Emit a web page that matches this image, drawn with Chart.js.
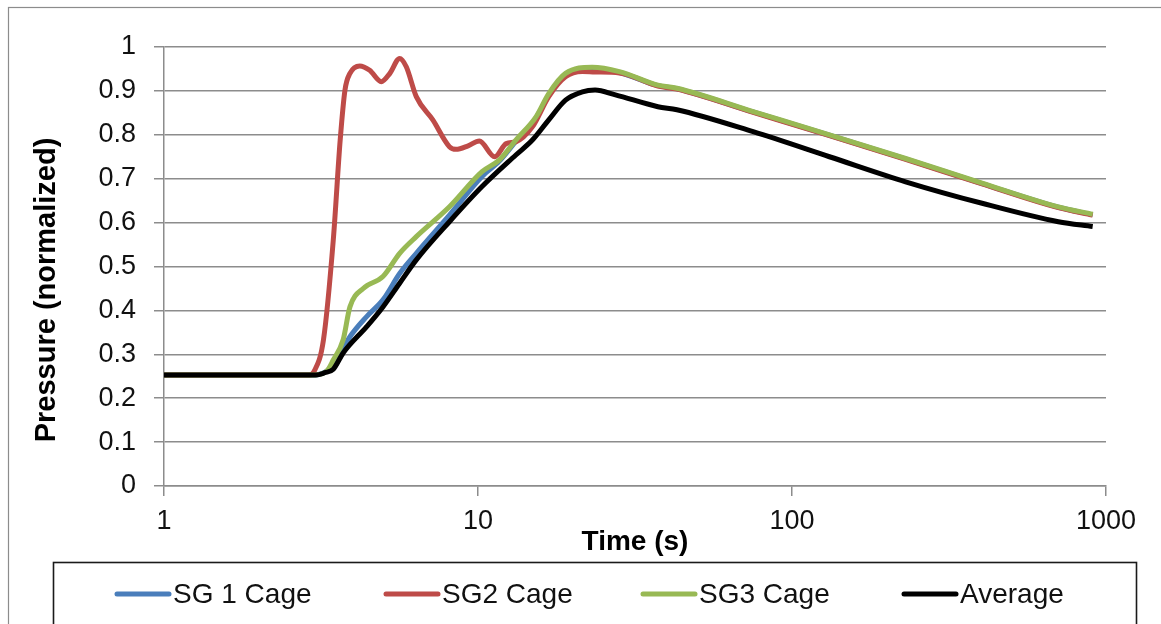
<!DOCTYPE html>
<html><head><meta charset="utf-8">
<script src="https://cdn.jsdelivr.net/npm/chart.js@4.4.0/dist/chart.umd.min.js"></script>
<style>html,body{margin:0;padding:0;background:#fff;overflow:hidden}#wrap{position:relative;width:1161px;height:624px}</style>
</head><body><div id="wrap"><canvas id="c" width="1161" height="624"></canvas></div>
<script>
const FONT = '"Liberation Sans", Arial, sans-serif';
const seriesNames = ['SG 1 Cage', 'SG2 Cage', 'SG3 Cage', 'Average'];
const seriesColors = ['#4A7EBB', '#BE4B48', '#98B954', '#000000'];
const xTickValues = [1, 10, 100, 1000];
const xAxisTitle = 'Time (s)';
const yAxisTitle = 'Pressure (normalized)';

const sg1Time = [1, 3.0, 3.3, 3.55, 3.91, 4.42, 4.98, 5.63, 6.36, 8.11, 10.3, 11.7, 13.2, 15.3, 16.8, 19.0, 23.1, 28.2, 37.4, 43, 75.2, 131.6, 230, 403, 705, 907];
const sg1Pressure = [0.253, 0.253, 0.262, 0.287, 0.34, 0.386, 0.424, 0.484, 0.53, 0.617, 0.705, 0.74, 0.785, 0.838, 0.89, 0.937, 0.951, 0.942, 0.912, 0.905, 0.852, 0.799, 0.745, 0.689, 0.635, 0.618];

const sg2Time = [1, 2.9, 3.0, 3.22, 3.46, 3.64, 3.77, 3.91, 4.2, 4.52, 4.92, 5.24, 5.63, 5.91, 6.36, 7.18, 8.11, 8.51, 9.3, 10.1, 11.3, 12.3, 13.2, 14.9, 16.8, 19.0, 21.5, 23.6, 28.2, 37.4, 43, 75.2, 131.6, 230, 403, 705, 907];
const sg2Pressure = [0.253, 0.253, 0.26, 0.333, 0.56, 0.788, 0.902, 0.94, 0.957, 0.947, 0.921, 0.94, 0.974, 0.955, 0.887, 0.834, 0.773, 0.767, 0.775, 0.786, 0.75, 0.78, 0.784, 0.818, 0.887, 0.932, 0.944, 0.943, 0.941, 0.911, 0.904, 0.851, 0.798, 0.744, 0.688, 0.634, 0.617];

const sg3Time = [1, 3.0, 3.3, 3.46, 3.72, 3.91, 4.31, 4.98, 5.63, 6.36, 8.11, 10.3, 11.7, 13.2, 15.3, 16.8, 19.0, 23.1, 28.2, 37.4, 43, 75.2, 131.6, 230, 403, 705, 907];
const sg3Pressure = [0.253, 0.253, 0.262, 0.287, 0.333, 0.408, 0.45, 0.477, 0.53, 0.568, 0.636, 0.716, 0.743, 0.788, 0.841, 0.894, 0.94, 0.954, 0.944, 0.913, 0.906, 0.853, 0.80, 0.746, 0.69, 0.636, 0.619];

const avgTime = [1, 3.05, 3.25, 3.46, 3.72, 4.42, 4.98, 5.63, 6.36, 8.11, 10.3, 13.2, 14.9, 16.8, 19.0, 21.5, 23.6, 27.4, 37.4, 43, 75.2, 131.6, 230, 403, 705, 907];
const avgPressure = [0.253, 0.253, 0.258, 0.266, 0.303, 0.363, 0.408, 0.462, 0.515, 0.602, 0.682, 0.754, 0.788, 0.834, 0.879, 0.898, 0.902, 0.891, 0.864, 0.857, 0.807, 0.75, 0.693, 0.644, 0.602, 0.591];

const allTimes = [sg1Time, sg2Time, sg3Time, avgTime];
const allPressures = [sg1Pressure, sg2Pressure, sg3Pressure, avgPressure];

const datasets = seriesNames.map((name, i) => ({
  label: name,
  data: allTimes[i].map((t, k) => ({ x: t, y: allPressures[i][k] })),
  borderColor: seriesColors[i],
  backgroundColor: seriesColors[i],
  borderWidth: 5,
  pointRadius: 0,
  fill: false,
  cubicInterpolationMode: 'monotone',
  order: seriesNames.length - i
}));

const framePlugin = {
  id: 'frame',
  beforeDraw(chart) {
    const ctx = chart.ctx;
    ctx.save();
    ctx.fillStyle = '#fff';
    ctx.fillRect(0, 0, chart.width, chart.height);
    ctx.strokeStyle = '#8c8c8c';
    ctx.lineWidth = 1.2;
    ctx.strokeRect(8.5, 7.5, 1300, 800);
    ctx.restore();
  },
  afterDraw(chart) {
    const ctx = chart.ctx;
    ctx.save();
    ctx.translate(47, 290);
    ctx.rotate(-Math.PI / 2);
    ctx.font = 'bold 29px ' + FONT;
    ctx.fillStyle = '#000';
    ctx.textAlign = 'center';
    ctx.textBaseline = 'middle';
    ctx.fillText(yAxisTitle, 0, 0);
    ctx.restore();
    ctx.save();
    ctx.strokeStyle = '#1a1a1a';
    ctx.lineWidth = 1.6;
    ctx.strokeRect(53.5, 562.5, 1083, 120);
    const starts = [115, 384, 641, 902];
    const ly = 594;
    ctx.font = '28px ' + FONT;
    ctx.textBaseline = 'middle';
    ctx.textAlign = 'left';
    chart.data.datasets.forEach((ds, i) => {
      ctx.strokeStyle = ds.borderColor;
      ctx.lineWidth = 5;
      ctx.lineCap = 'round';
      ctx.beginPath();
      ctx.moveTo(starts[i] + 2, ly);
      ctx.lineTo(starts[i] + 54, ly);
      ctx.stroke();
      ctx.fillStyle = '#111';
      ctx.fillText(ds.label, starts[i] + 58, ly + 1);
    });
    ctx.restore();
  }
};

new Chart(document.getElementById('c'), {
  type: 'line',
  data: { datasets },
  plugins: [framePlugin],
  options: {
    responsive: false,
    animation: false,
    events: [],
    layout: { padding: { left: 0, top: 47, right: 55, bottom: 65 } },
    plugins: { legend: { display: false }, tooltip: { enabled: false } },
    scales: {
      x: {
        type: 'logarithmic',
        min: 1, max: 1000,
        afterBuildTicks(scale) { scale.ticks = xTickValues.map(v => ({ value: v, major: true })); },
        afterFit(scale) { scale.height = 73; },
        ticks: {
          autoSkip: false, maxRotation: 0, padding: 9,
          color: '#111', font: { family: FONT, size: 27 },
          callback: (v) => String(v)
        },
        grid: { drawOnChartArea: false, drawTicks: true, tickLength: 10, color: '#8c8c8c', lineWidth: 1.5 },
        border: { display: true, color: '#8c8c8c', width: 1.5 },
        title: { display: true, text: xAxisTitle, color: '#000', padding: { top: 0, bottom: 0 }, font: { family: FONT, size: 28, weight: 'bold' } }
      },
      y: {
        type: 'linear',
        min: 0, max: 1,
        afterFit(scale) { scale.width = 164; },
        ticks: {
          stepSize: 0.1, padding: 18,
          color: '#111', font: { family: FONT, size: 27 },
          callback: (v) => String(Number(v.toFixed(1)))
        },
        grid: { drawTicks: true, tickLength: 10, color: '#8c8c8c', lineWidth: 1.5 },
        border: { display: true, color: '#8c8c8c', width: 1.5 }
      }
    }
  }
});
</script>
</body></html>
